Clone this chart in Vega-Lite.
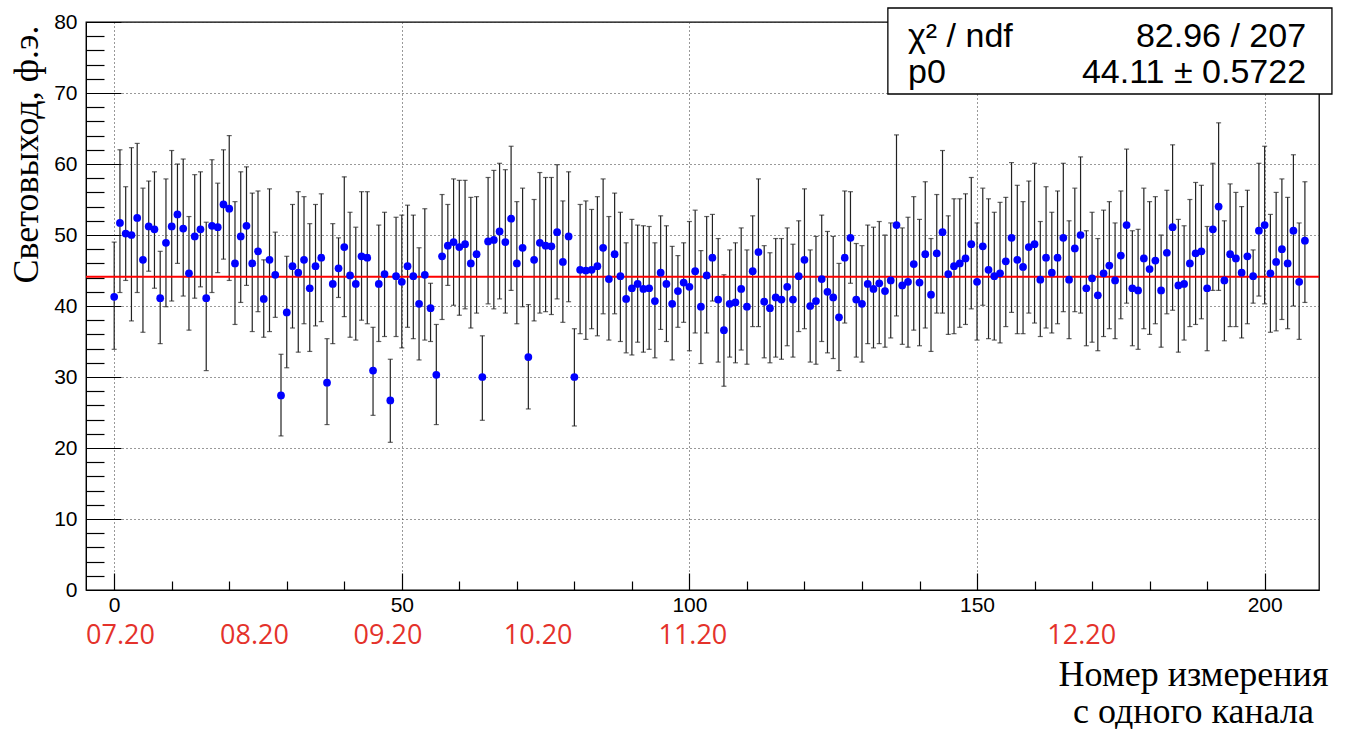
{
"$schema": "https://vega.github.io/schema/vega-lite/v6.json",
"width": 1233, "height": 568,
"autosize": {"type": "none"},
"padding": {"left": 86, "top": 22, "right": 30, "bottom": 139},
"background": "white",
"config": {
  "view": {"stroke": "#000", "strokeWidth": 1.3},
  "axis": {"labelFont": "Liberation Sans", "labelFontSize": 21, "labelColor": "#000", "domainColor": "#000", "tickColor": "#000", "tickWidth": 1.2, "gridColor": "#333", "gridDash": [1, 3], "gridWidth": 1, "titleFont": "Liberation Serif", "titleFontSize": 36, "titleFontWeight": "normal", "titleColor": "#000", "labelFlush": false, "labelOverlap": false}
},
"datasets": {
  "points": [
{"i":0,"y":41.3,"lo":33.9,"hi":49.0},{"i":1,"y":51.7,"lo":41.9,"hi":62.0},{"i":2,"y":50.2,"lo":43.6,"hi":56.8},{"i":3,"y":50.0,"lo":37.9,"hi":62.3},{"i":4,"y":52.4,"lo":41.9,"hi":62.9},{"i":5,"y":46.5,"lo":36.3,"hi":56.6},{"i":6,"y":51.2,"lo":44.9,"hi":57.6},{"i":7,"y":50.8,"lo":42.5,"hi":58.9},{"i":8,"y":41.1,"lo":34.7,"hi":47.7},{"i":9,"y":48.9,"lo":39.9,"hi":57.9},
{"i":10,"y":51.2,"lo":40.7,"hi":61.9},{"i":11,"y":52.9,"lo":46.0,"hi":60.0},{"i":12,"y":50.9,"lo":41.4,"hi":60.7},{"i":13,"y":44.6,"lo":36.6,"hi":52.6},{"i":14,"y":49.8,"lo":41.1,"hi":58.5},{"i":15,"y":50.8,"lo":42.7,"hi":58.9},{"i":16,"y":41.1,"lo":30.9,"hi":51.8},{"i":17,"y":51.3,"lo":41.9,"hi":60.6},{"i":18,"y":51.1,"lo":44.7,"hi":57.3},{"i":19,"y":54.3,"lo":46.6,"hi":62.0},
{"i":20,"y":53.7,"lo":43.6,"hi":64.0},{"i":21,"y":46.0,"lo":37.4,"hi":54.7},{"i":22,"y":49.8,"lo":40.5,"hi":58.9},{"i":23,"y":51.3,"lo":42.9,"hi":59.6},{"i":24,"y":46.0,"lo":36.4,"hi":55.9},{"i":25,"y":47.7,"lo":39.2,"hi":56.2},{"i":26,"y":41.0,"lo":35.6,"hi":46.5},{"i":27,"y":46.5,"lo":36.4,"hi":56.5},{"i":28,"y":44.4,"lo":38.4,"hi":50.4},{"i":29,"y":27.4,"lo":21.7,"hi":33.2},
{"i":30,"y":39.1,"lo":31.3,"hi":47.0},{"i":31,"y":45.6,"lo":36.9,"hi":54.3},{"i":32,"y":44.7,"lo":33.5,"hi":56.1},{"i":33,"y":46.5,"lo":37.5,"hi":55.4},{"i":34,"y":42.5,"lo":33.6,"hi":51.6},{"i":35,"y":45.6,"lo":37.2,"hi":54.3},{"i":36,"y":46.8,"lo":37.8,"hi":55.8},{"i":37,"y":29.2,"lo":23.3,"hi":35.4},{"i":38,"y":43.1,"lo":34.7,"hi":51.6},{"i":39,"y":45.3,"lo":41.2,"hi":49.6},
{"i":40,"y":48.3,"lo":38.5,"hi":58.2},{"i":41,"y":44.3,"lo":35.6,"hi":53.2},{"i":42,"y":43.1,"lo":35.2,"hi":51.1},{"i":43,"y":47.0,"lo":38.0,"hi":56.1},{"i":44,"y":46.8,"lo":37.5,"hi":56.1},{"i":45,"y":30.9,"lo":24.6,"hi":37.0},{"i":46,"y":43.1,"lo":35.0,"hi":51.4},{"i":47,"y":44.5,"lo":35.7,"hi":53.2},{"i":48,"y":26.7,"lo":20.8,"hi":32.5},{"i":49,"y":44.2,"lo":35.7,"hi":52.5},
{"i":50,"y":43.4,"lo":34.1,"hi":52.8},{"i":51,"y":45.6,"lo":37.0,"hi":54.2},{"i":52,"y":44.2,"lo":35.4,"hi":52.8},{"i":53,"y":40.3,"lo":32.4,"hi":48.2},{"i":54,"y":44.4,"lo":35.2,"hi":53.7},{"i":55,"y":39.7,"lo":35.0,"hi":43.2},{"i":56,"y":30.3,"lo":23.3,"hi":37.4},{"i":57,"y":47.0,"lo":38.1,"hi":55.7},{"i":58,"y":48.5,"lo":42.9,"hi":54.3},{"i":59,"y":49.0,"lo":40.1,"hi":57.9},
{"i":60,"y":48.3,"lo":38.7,"hi":57.7},{"i":61,"y":48.7,"lo":39.6,"hi":57.7},{"i":62,"y":46.0,"lo":36.9,"hi":55.3},{"i":63,"y":47.3,"lo":39.0,"hi":55.4},{"i":64,"y":30.0,"lo":23.9,"hi":35.8},{"i":65,"y":49.1,"lo":40.3,"hi":58.1},{"i":66,"y":49.3,"lo":39.6,"hi":59.1},{"i":67,"y":50.5,"lo":41.0,"hi":60.1},{"i":68,"y":49.0,"lo":39.0,"hi":59.2},{"i":69,"y":52.3,"lo":42.2,"hi":62.5},
{"i":70,"y":46.0,"lo":37.5,"hi":54.7},{"i":71,"y":48.2,"lo":39.9,"hi":56.6},{"i":72,"y":32.8,"lo":25.5,"hi":40.2},{"i":73,"y":46.5,"lo":37.9,"hi":55.0},{"i":74,"y":48.9,"lo":39.0,"hi":58.8},{"i":75,"y":48.5,"lo":39.2,"hi":58.1},{"i":76,"y":48.4,"lo":38.8,"hi":58.1},{"i":77,"y":50.4,"lo":41.0,"hi":59.9},{"i":78,"y":46.2,"lo":37.7,"hi":54.8},{"i":79,"y":49.8,"lo":40.6,"hi":58.9},
{"i":80,"y":30.0,"lo":23.1,"hi":36.8},{"i":81,"y":45.1,"lo":36.1,"hi":54.3},{"i":82,"y":45.0,"lo":35.3,"hi":54.8},{"i":83,"y":45.1,"lo":36.8,"hi":53.6},{"i":84,"y":45.6,"lo":35.8,"hi":55.4},{"i":85,"y":48.2,"lo":38.9,"hi":57.9},{"i":86,"y":43.8,"lo":35.2,"hi":52.6},{"i":87,"y":47.3,"lo":38.9,"hi":55.9},{"i":88,"y":44.2,"lo":35.0,"hi":53.2},{"i":89,"y":41.0,"lo":33.4,"hi":48.9},
{"i":90,"y":42.5,"lo":33.1,"hi":52.2},{"i":91,"y":43.1,"lo":34.9,"hi":51.4},{"i":92,"y":42.4,"lo":33.5,"hi":51.3},{"i":93,"y":42.5,"lo":33.9,"hi":51.2},{"i":94,"y":40.7,"lo":32.7,"hi":48.9},{"i":95,"y":44.7,"lo":36.7,"hi":52.7},{"i":96,"y":43.1,"lo":35.0,"hi":51.3},{"i":97,"y":40.3,"lo":32.4,"hi":48.4},{"i":98,"y":42.1,"lo":37.0,"hi":47.1},{"i":99,"y":43.3,"lo":37.7,"hi":48.9},
{"i":100,"y":42.7,"lo":33.7,"hi":51.9},{"i":101,"y":44.9,"lo":36.2,"hi":53.5},{"i":102,"y":39.9,"lo":31.9,"hi":47.8},{"i":103,"y":44.3,"lo":36.2,"hi":52.6},{"i":104,"y":46.8,"lo":40.7,"hi":52.9},{"i":105,"y":40.9,"lo":32.1,"hi":49.5},{"i":106,"y":36.6,"lo":28.7,"hi":44.4},{"i":107,"y":40.3,"lo":32.8,"hi":47.9},{"i":108,"y":40.5,"lo":32.0,"hi":48.9},{"i":109,"y":42.4,"lo":33.8,"hi":51.0},
{"i":110,"y":39.9,"lo":31.8,"hi":47.9},{"i":111,"y":44.9,"lo":37.1,"hi":52.7},{"i":112,"y":47.6,"lo":37.1,"hi":57.9},{"i":113,"y":40.6,"lo":32.7,"hi":48.5},{"i":114,"y":39.7,"lo":32.0,"hi":47.5},{"i":115,"y":41.2,"lo":32.8,"hi":49.5},{"i":116,"y":40.9,"lo":32.5,"hi":49.5},{"i":117,"y":42.7,"lo":34.4,"hi":51.0},{"i":118,"y":40.9,"lo":32.8,"hi":48.7},{"i":119,"y":44.2,"lo":36.4,"hi":52.0},
{"i":120,"y":46.5,"lo":36.8,"hi":56.5},{"i":121,"y":40.0,"lo":32.1,"hi":47.9},{"i":122,"y":40.7,"lo":31.8,"hi":49.8},{"i":123,"y":43.8,"lo":35.0,"hi":52.8},{"i":124,"y":42.0,"lo":33.4,"hi":50.5},{"i":125,"y":41.2,"lo":32.6,"hi":49.8},{"i":126,"y":38.4,"lo":30.9,"hi":46.0},{"i":127,"y":46.8,"lo":37.6,"hi":56.2},{"i":128,"y":49.6,"lo":43.2,"hi":56.1},{"i":129,"y":40.9,"lo":32.8,"hi":48.8},
{"i":130,"y":40.3,"lo":32.1,"hi":48.5},{"i":131,"y":43.1,"lo":34.7,"hi":51.4},{"i":132,"y":42.4,"lo":34.1,"hi":51.1},{"i":133,"y":43.2,"lo":34.7,"hi":51.9},{"i":134,"y":42.1,"lo":34.2,"hi":50.0},{"i":135,"y":43.6,"lo":35.5,"hi":51.7},{"i":136,"y":51.4,"lo":38.6,"hi":64.1},{"i":137,"y":42.9,"lo":34.6,"hi":51.0},{"i":138,"y":43.4,"lo":34.2,"hi":52.5},{"i":139,"y":45.9,"lo":36.6,"hi":55.4},
{"i":140,"y":43.3,"lo":34.4,"hi":52.2},{"i":141,"y":47.3,"lo":36.9,"hi":57.5},{"i":142,"y":41.6,"lo":33.6,"hi":49.5},{"i":143,"y":47.4,"lo":39.0,"hi":55.7},{"i":144,"y":50.4,"lo":39.0,"hi":61.9},{"i":145,"y":44.5,"lo":36.0,"hi":52.7},{"i":146,"y":45.6,"lo":36.1,"hi":55.1},{"i":147,"y":46.0,"lo":37.0,"hi":55.1},{"i":148,"y":46.7,"lo":37.4,"hi":55.8},{"i":149,"y":48.7,"lo":39.6,"hi":58.1},
{"i":150,"y":43.4,"lo":35.2,"hi":51.7},{"i":151,"y":48.4,"lo":40.1,"hi":56.6},{"i":152,"y":45.1,"lo":35.4,"hi":55.1},{"i":153,"y":44.2,"lo":35.2,"hi":53.2},{"i":154,"y":44.6,"lo":34.8,"hi":54.6},{"i":155,"y":46.3,"lo":37.1,"hi":55.3},{"i":156,"y":49.6,"lo":39.1,"hi":60.2},{"i":157,"y":46.5,"lo":36.1,"hi":57.0},{"i":158,"y":45.5,"lo":36.1,"hi":54.7},{"i":159,"y":48.3,"lo":39.0,"hi":57.6},
{"i":160,"y":48.7,"lo":37.6,"hi":60.1},{"i":161,"y":43.7,"lo":35.7,"hi":51.9},{"i":162,"y":46.8,"lo":36.9,"hi":56.8},{"i":163,"y":44.7,"lo":36.2,"hi":53.2},{"i":164,"y":46.8,"lo":37.5,"hi":56.2},{"i":165,"y":49.6,"lo":39.2,"hi":60.1},{"i":166,"y":43.7,"lo":35.4,"hi":52.0},{"i":167,"y":48.1,"lo":39.2,"hi":56.6},{"i":168,"y":50.0,"lo":39.0,"hi":61.0},{"i":169,"y":42.5,"lo":34.4,"hi":50.6},
{"i":170,"y":43.9,"lo":34.9,"hi":53.2},{"i":171,"y":41.5,"lo":33.7,"hi":49.5},{"i":172,"y":44.6,"lo":35.7,"hi":53.5},{"i":173,"y":45.7,"lo":36.8,"hi":54.7},{"i":174,"y":43.6,"lo":35.4,"hi":51.7},{"i":175,"y":47.1,"lo":38.2,"hi":56.2},{"i":176,"y":51.4,"lo":40.4,"hi":62.1},{"i":177,"y":42.5,"lo":34.4,"hi":50.6},{"i":178,"y":42.2,"lo":33.9,"hi":50.8},{"i":179,"y":46.7,"lo":36.8,"hi":56.6},
{"i":180,"y":45.2,"lo":36.0,"hi":54.7},{"i":181,"y":46.4,"lo":37.5,"hi":55.4},{"i":182,"y":42.2,"lo":34.2,"hi":50.0},{"i":183,"y":47.5,"lo":38.9,"hi":56.3},{"i":184,"y":51.1,"lo":39.4,"hi":62.7},{"i":185,"y":42.9,"lo":33.5,"hi":52.2},{"i":186,"y":43.1,"lo":35.2,"hi":51.3},{"i":187,"y":46.0,"lo":37.1,"hi":55.0},{"i":188,"y":47.4,"lo":37.4,"hi":57.4},{"i":189,"y":47.7,"lo":38.2,"hi":57.0},
{"i":190,"y":42.5,"lo":33.7,"hi":51.2},{"i":191,"y":50.8,"lo":42.2,"hi":60.1},{"i":192,"y":54.0,"lo":42.2,"hi":65.8},{"i":193,"y":43.6,"lo":35.1,"hi":52.0},{"i":194,"y":47.3,"lo":37.1,"hi":57.2},{"i":195,"y":46.7,"lo":37.1,"hi":56.0},{"i":196,"y":44.7,"lo":35.5,"hi":54.0},{"i":197,"y":47.0,"lo":37.5,"hi":56.3},{"i":198,"y":44.2,"lo":40.4,"hi":47.9},{"i":199,"y":50.6,"lo":41.4,"hi":60.1},
{"i":200,"y":51.4,"lo":40.3,"hi":62.5},{"i":201,"y":44.6,"lo":36.3,"hi":52.9},{"i":202,"y":46.2,"lo":36.5,"hi":56.0},{"i":203,"y":48.0,"lo":38.1,"hi":57.9},{"i":204,"y":46.0,"lo":36.8,"hi":55.3},{"i":205,"y":50.6,"lo":40.0,"hi":61.3},{"i":206,"y":43.4,"lo":35.3,"hi":51.7},{"i":207,"y":49.2,"lo":40.5,"hi":57.5}
  ],
  "fit": [{"p0": 44.11}],
  "months": [{"label":"07.20","i":1.1},{"label":"08.20","i":24.4},{"label":"09.20","i":47.6},{"label":"10.20","i":73.7},{"label":"11.20","i":100.6},{"label":"12.20","i":168.2}],
  "stats": [{"name":"χ² / ndf","value":"82.96 / 207"},{"name":"p0","value":"44.11 ± 0.5722"}]
},
"layer": [
  {
    "data": {"name": "points"},
    "mark": {"type": "errorbar", "color": "#222", "thickness": 1.2, "ticks": {"size": 5, "thickness": 1.2}},
    "encoding": {
      "x": {"field": "i", "type": "quantitative",
        "scale": {"domain": [-4.9, 209.45], "nice": false, "zero": false},
        "axis": {"values": [0,10,20,30,40,50,60,70,80,90,100,110,120,130,140,150,160,170,180,190,200],
          "tickCount": 100,
          "labelExpr": "datum.value % 50 === 0 ? datum.label : ''",
          "labelOverlap": false, "labelFlush": false, "labelFontSize": 21,
          "grid": true,
          "gridOpacity": {"condition": {"test": "datum.value % 50 === 0", "value": 1}, "value": 0},
          "tickSize": {"condition": {"test": "datum.value % 50 === 0", "value": -17}, "value": -9},
          "labelPadding": 21,
          "title": ["Номер измерения", "с одного канала"],
          "titleX": 1107, "titleY": 95, "titleAlign": "center", "titleBaseline": "alphabetic", "titleLineHeight": 37}},
      "y": {"field": "lo", "type": "quantitative",
        "scale": {"domain": [0, 80], "nice": false},
        "axis": {"values": [0,2,4,6,8,10,12,14,16,18,20,22,24,26,28,30,32,34,36,38,40,42,44,46,48,50,52,54,56,58,60,62,64,66,68,70,72,74,76,78,80],
          "tickCount": 100,
          "labelExpr": "datum.value % 10 === 0 ? datum.label : ''",
          "labelOverlap": false, "labelFlush": false, "labelFontSize": 21,
          "grid": true,
          "gridOpacity": {"condition": {"test": "datum.value % 10 === 0", "value": 1}, "value": 0},
          "tickSize": {"condition": {"test": "datum.value % 10 === 0", "value": -35}, "value": -18},
          "labelPadding": 44,
          "title": "Световыход, ф.э.",
          "titleX": -49, "titleY": 132, "titleAngle": 270, "titleAlign": "center", "titleBaseline": "alphabetic"}},
      "y2": {"field": "hi"}
    }
  },
  {
    "data": {"name": "fit"},
    "mark": {"type": "rule", "color": "#ff0000", "strokeWidth": 2},
    "encoding": {"y": {"field": "p0", "type": "quantitative"}}
  },
  {
    "data": {"name": "points"},
    "mark": {"type": "point", "filled": true, "color": "#0000ff", "opacity": 1, "size": 60},
    "encoding": {
      "x": {"field": "i", "type": "quantitative"},
      "y": {"field": "y", "type": "quantitative"}
    }
  },
  {
    "data": {"name": "months"},
    "mark": {"type": "text", "font": "Open Sans", "fontSize": 27, "color": "#e4322b", "align": "center", "baseline": "middle"},
    "encoding": {
      "x": {"field": "i", "type": "quantitative"},
      "y": {"datum": -6.5, "type": "quantitative"},
      "text": {"field": "label"}
    }
  },
  {
    "data": {"values": [{"box": "stats"}]},
    "mark": {"type": "rect", "fill": "white", "stroke": "#000", "strokeWidth": 1.3},
    "encoding": {
      "x": {"datum": 134.5, "type": "quantitative"},
      "x2": {"datum": 211.7},
      "y": {"datum": 69.86, "type": "quantitative"},
      "y2": {"datum": 81.97}
    }
  },
  {
    "data": {"name": "stats"},
    "transform": [{"filter": "datum.name === 'p0'"}],
    "layer": [
      {"mark": {"type": "text", "font": "Liberation Sans", "fontSize": 34, "color": "#000", "align": "left", "baseline": "alphabetic"},
       "encoding": {"x": {"datum": 138.0, "type": "quantitative"}, "y": {"datum": 71.41, "type": "quantitative"}, "text": {"field": "name"}}},
      {"mark": {"type": "text", "font": "Liberation Sans", "fontSize": 34, "color": "#000", "align": "right", "baseline": "alphabetic"},
       "encoding": {"x": {"datum": 207.2, "type": "quantitative"}, "y": {"datum": 71.41, "type": "quantitative"}, "text": {"field": "value"}}}
    ]
  },
  {
    "data": {"name": "stats"},
    "transform": [{"filter": "datum.name !== 'p0'"}],
    "layer": [
      {"mark": {"type": "text", "font": "Liberation Sans", "fontSize": 34, "color": "#000", "align": "left", "baseline": "alphabetic"},
       "encoding": {"x": {"datum": 138.0, "type": "quantitative"}, "y": {"datum": 76.52, "type": "quantitative"}, "text": {"field": "name"}}},
      {"mark": {"type": "text", "font": "Liberation Sans", "fontSize": 34, "color": "#000", "align": "right", "baseline": "alphabetic"},
       "encoding": {"x": {"datum": 207.2, "type": "quantitative"}, "y": {"datum": 76.52, "type": "quantitative"}, "text": {"field": "value"}}}
    ]
  }
]
}
